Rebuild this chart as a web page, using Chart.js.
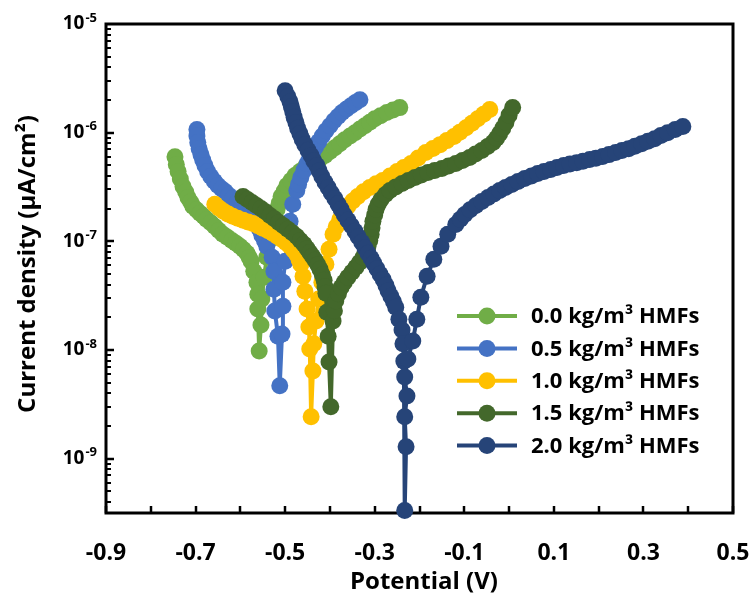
<!DOCTYPE html>
<html>
<head>
<meta charset="utf-8">
<script src="https://cdn.jsdelivr.net/npm/chart.js@4.4.1/dist/chart.umd.min.js"></script>
<style>
  body { margin: 0; background: #fff; }
  canvas { display: block; }
</style>
</head>
<body>
<canvas id="grafico" width="752" height="601"></canvas>
<script>
// series names
const seriesNames = ['0.0 kg/m³ HMFs', '0.5 kg/m³ HMFs', '1.0 kg/m³ HMFs', '1.5 kg/m³ HMFs', '2.0 kg/m³ HMFs'];
const seriesColors = ['#70AD47', '#4472C4', '#FFC000', '#43682B', '#264478'];

// potential (V) and current density (cathodic -> Ecorr -> anodic)
const potential00 = [-0.746, -0.743, -0.739, -0.734, -0.728, -0.722, -0.717, -0.711, -0.706, -0.698, -0.690, -0.682, -0.675, -0.666, -0.657, -0.648, -0.639, -0.629, -0.619, -0.610, -0.601, -0.593, -0.585, -0.580, -0.576, -0.570, -0.563, -0.561, -0.561, -0.558,
    -0.554, -0.552, -0.547, -0.541, -0.534, -0.527, -0.518, -0.513, -0.509, -0.502, -0.496, -0.487, -0.478, -0.467, -0.456, -0.444, -0.433, -0.422, -0.411, -0.400, -0.389, -0.378, -0.367, -0.355, -0.344, -0.333, -0.322, -0.311, -0.300, -0.287, -0.273, -0.259, -0.244];
const current00 = [6.0e-7, 5.1e-7, 4.4e-7, 3.75e-7, 3.2e-7, 2.85e-7, 2.53e-7, 2.3e-7, 2.1e-7, 1.95e-7, 1.81e-7, 1.7e-7, 1.59e-7, 1.48e-7, 1.37e-7, 1.26e-7, 1.16e-7, 1.09e-7, 1.02e-7, 9.6e-8, 9.0e-8, 8.4e-8, 7.76e-8, 7.1e-8, 6.56e-8, 5.3e-8, 4.2e-8, 3.26e-8, 2.38e-8, 9.8e-9,
    1.7e-8, 2.94e-8, 4.68e-8, 7.13e-8, 1.04e-7, 1.46e-7, 1.97e-7, 2.25e-7, 2.59e-7, 2.9e-7, 3.26e-7, 3.62e-7, 4.03e-7, 4.4e-7, 4.77e-7, 5.1e-7, 5.42e-7, 5.75e-7, 6.15e-7, 6.7e-7, 7.28e-7, 7.9e-7, 8.6e-7, 9.3e-7, 1.0e-6, 1.08e-6, 1.16e-6, 1.25e-6, 1.34e-6, 1.43e-6, 1.53e-6, 1.62e-6, 1.7e-6];

const potential05 = [-0.697, -0.697, -0.695, -0.692, -0.688, -0.684, -0.679, -0.673, -0.666, -0.658, -0.650, -0.642, -0.634, -0.626, -0.617, -0.607, -0.596, -0.588, -0.579, -0.571, -0.563, -0.557, -0.552, -0.546, -0.541, -0.529, -0.525, -0.525, -0.523, -0.516, -0.512,
    -0.507, -0.505, -0.505, -0.500, -0.494, -0.489, -0.483, -0.474, -0.470, -0.465, -0.458, -0.451, -0.445, -0.438, -0.432, -0.425, -0.417, -0.409, -0.400, -0.391, -0.382, -0.373, -0.363, -0.353, -0.343, -0.333];
const current05 = [1.07e-6, 9.3e-7, 8.1e-7, 7.1e-7, 6.28e-7, 5.6e-7, 4.98e-7, 4.4e-7, 3.95e-7, 3.57e-7, 3.26e-7, 3.05e-7, 2.87e-7, 2.66e-7, 2.48e-7, 2.3e-7, 2.14e-7, 1.97e-7, 1.81e-7, 1.63e-7, 1.46e-7, 1.29e-7, 1.14e-7, 1.01e-7, 9.0e-8, 7.13e-8, 5.3e-8, 3.63e-8, 2.28e-8, 1.34e-8, 4.68e-9,
    1.4e-8, 2.53e-8, 4.2e-8, 6.56e-8, 1.0e-7, 1.53e-7, 2.19e-7, 2.94e-7, 3.35e-7, 3.87e-7, 4.5e-7, 5.2e-7, 5.9e-7, 6.7e-7, 7.4e-7, 8.27e-7, 9.3e-7, 1.04e-6, 1.16e-6, 1.29e-6, 1.41e-6, 1.53e-6, 1.65e-6, 1.77e-6, 1.89e-6, 2.01e-6];

const potential10 = [-0.657, -0.647, -0.637, -0.627, -0.617, -0.606, -0.594, -0.583, -0.572, -0.561, -0.550, -0.538, -0.527, -0.517, -0.507, -0.498, -0.489, -0.481, -0.474, -0.469, -0.465, -0.460, -0.456, -0.451, -0.447, -0.445, -0.442,
    -0.438, -0.436, -0.431, -0.425, -0.418, -0.409, -0.402, -0.393, -0.386, -0.378, -0.369, -0.360, -0.349, -0.338, -0.325, -0.311, -0.297, -0.282, -0.266, -0.250, -0.235, -0.219, -0.203, -0.186, -0.170, -0.154, -0.139, -0.123, -0.110, -0.096, -0.083, -0.070, -0.057, -0.043];
const current10 = [2.19e-7, 2.02e-7, 1.88e-7, 1.78e-7, 1.7e-7, 1.63e-7, 1.56e-7, 1.51e-7, 1.46e-7, 1.39e-7, 1.32e-7, 1.25e-7, 1.18e-7, 1.11e-7, 1.04e-7, 9.7e-8, 9.0e-8, 8.3e-8, 7.6e-8, 6.8e-8, 6.15e-8, 4.77e-8, 3.48e-8, 2.38e-8, 1.63e-8, 1.02e-8, 2.43e-9,
    6.42e-9, 1.14e-8, 1.85e-8, 2.94e-8, 4.2e-8, 6.15e-8, 8.45e-8, 1.16e-7, 1.36e-7, 1.59e-7, 1.83e-7, 2.1e-7, 2.35e-7, 2.59e-7, 2.86e-7, 3.13e-7, 3.38e-7, 3.63e-7, 4.0e-7, 4.39e-7, 4.78e-7, 5.2e-7, 5.85e-7, 6.56e-7, 7.15e-7, 7.76e-7, 8.45e-7, 9.2e-7, 1.01e-6, 1.11e-6, 1.22e-6, 1.34e-6, 1.48e-6, 1.63e-6];

const potential15 = [-0.594, -0.584, -0.574, -0.564, -0.554, -0.544, -0.534, -0.524, -0.514, -0.504, -0.494, -0.484, -0.474, -0.466, -0.458, -0.451, -0.445, -0.439, -0.433, -0.427, -0.422, -0.417, -0.413, -0.411, -0.409, -0.407, -0.404, -0.402, -0.398,
    -0.393, -0.390, -0.387, -0.381, -0.375, -0.368, -0.360, -0.351, -0.342, -0.334, -0.326, -0.320, -0.315, -0.311, -0.308, -0.306, -0.304, -0.300, -0.297, -0.292, -0.286, -0.276, -0.266, -0.253, -0.239, -0.225, -0.210, -0.196, -0.181, -0.166, -0.150, -0.135, -0.119, -0.104, -0.088, -0.075, -0.061, -0.048, -0.036, -0.028, -0.021, -0.014, -0.007, 0.000, 0.008];
const current15 = [2.59e-7, 2.43e-7, 2.28e-7, 2.14e-7, 2.01e-7, 1.87e-7, 1.73e-7, 1.61e-7, 1.49e-7, 1.39e-7, 1.29e-7, 1.2e-7, 1.11e-7, 1.02e-7, 9.4e-8, 8.6e-8, 7.9e-8, 7.3e-8, 6.7e-8, 6.1e-8, 5.53e-8, 4.9e-8, 4.39e-8, 3.8e-8, 3.33e-8, 2.23e-8, 1.34e-8, 7.76e-9, 3.0e-9,
    1.85e-8, 2.3e-8, 2.82e-8, 3.3e-8, 3.78e-8, 4.2e-8, 4.68e-8, 5.2e-8, 5.77e-8, 6.4e-8, 7.13e-8, 8.0e-8, 9.0e-8, 1.02e-7, 1.16e-7, 1.33e-7, 1.53e-7, 1.75e-7, 1.97e-7, 2.2e-7, 2.43e-7, 2.7e-7, 2.94e-7, 3.17e-7, 3.4e-7, 3.63e-7, 3.87e-7, 4.08e-7, 4.3e-7, 4.48e-7, 4.68e-7, 4.93e-7, 5.2e-7, 5.55e-7, 5.9e-7, 6.35e-7, 6.84e-7, 7.45e-7, 8.1e-7, 8.9e-7, 9.8e-7, 1.1e-6, 1.24e-6, 1.45e-6, 1.7e-6];

const potential20 = [-0.500, -0.494, -0.489, -0.486, -0.483, -0.480, -0.476, -0.472, -0.467, -0.462, -0.456, -0.449, -0.442, -0.436, -0.429, -0.424, -0.418, -0.411, -0.404, -0.397, -0.389, -0.382, -0.375, -0.368, -0.360, -0.352, -0.344, -0.337, -0.329, -0.322, -0.315, -0.308, -0.302, -0.295, -0.288, -0.281, -0.275, -0.270, -0.264, -0.258, -0.253, -0.246, -0.239, -0.237, -0.235, -0.233,
    -0.230, -0.233, -0.228, -0.233, -0.226, -0.215, -0.206, -0.197, -0.183, -0.168, -0.152, -0.137, -0.119, -0.109, -0.099, -0.087, -0.074, -0.061, -0.047, -0.034, -0.021, -0.008, 0.006, 0.020, 0.035, 0.050, 0.064, 0.078, 0.093, 0.107, 0.122, 0.136, 0.151, 0.165, 0.180, 0.194, 0.209, 0.223, 0.238, 0.252, 0.267, 0.281, 0.296, 0.310, 0.325, 0.339, 0.354, 0.371, 0.388];
const current20 = [2.43e-6, 2.15e-6, 1.92e-6, 1.73e-6, 1.56e-6, 1.39e-6, 1.24e-6, 1.1e-6, 9.8e-7, 8.7e-7, 7.76e-7, 6.9e-7, 6.15e-7, 5.5e-7, 4.98e-7, 4.45e-7, 3.95e-7, 3.5e-7, 3.13e-7, 2.78e-7, 2.48e-7, 2.2e-7, 1.97e-7, 1.75e-7, 1.56e-7, 1.39e-7, 1.24e-7, 1.1e-7, 9.8e-8, 8.7e-8, 7.76e-8, 7.0e-8, 6.28e-8, 5.6e-8, 4.98e-8, 4.45e-8, 3.95e-8, 3.5e-8, 3.13e-8, 2.78e-8, 2.48e-8, 1.92e-8, 1.53e-8, 1.14e-8, 7.9e-9, 3.33e-10,
    1.29e-9, 2.43e-9, 3.78e-9, 5.65e-9, 8.27e-9, 1.21e-8, 1.92e-8, 3.06e-8, 4.77e-8, 6.84e-8, 9.0e-8, 1.16e-7, 1.43e-7, 1.6e-7, 1.77e-7, 1.95e-7, 2.14e-7, 2.33e-7, 2.53e-7, 2.73e-7, 2.94e-7, 3.13e-7, 3.33e-7, 3.55e-7, 3.78e-7, 4.0e-7, 4.2e-7, 4.4e-7, 4.58e-7, 4.78e-7, 4.98e-7, 5.14e-7, 5.3e-7, 5.47e-7, 5.65e-7, 5.83e-7, 6.03e-7, 6.28e-7, 6.56e-7, 6.84e-7, 7.13e-7, 7.5e-7, 7.9e-7, 8.35e-7, 8.8e-7, 9.4e-7, 1.0e-6, 1.07e-6, 1.14e-6];

// axis ticks
const xTickLabels = ['-0.9', '-0.7', '-0.5', '-0.3', '-0.1', '0.1', '0.3', '0.5'];
const yTickExps = [-5, -6, -7, -8, -9];

const potentials = [potential00, potential05, potential10, potential15, potential20];
const currents = [current00, current05, current10, current15, current20];

const FONT = '"Open Sans", "DejaVu Sans", sans-serif';

function juntar(xs, ys) {
    return xs.map((x, i) => ({ x: x, y: ys[i] }));
}

const datasets = seriesNames.map((nome, i) => ({
    label: nome,
    data: juntar(potentials[i], currents[i]),
    showLine: true,
    borderColor: seriesColors[i],
    backgroundColor: seriesColors[i],
    borderWidth: 4,
    pointRadius: 8.5,
    pointBorderWidth: 0,
    pointBackgroundColor: seriesColors[i],
    clip: false,
    order: 5 - i
}));

const eixos = {
    id: 'eixos',
    beforeDatasetsDraw(chart) {
        const ctx = chart.ctx;
        const a = chart.chartArea;
        const sx = chart.scales.x;
        const sy = chart.scales.y;
        ctx.save();
        ctx.strokeStyle = '#000';
        ctx.lineWidth = 3;
        ctx.strokeRect(a.left, a.top, a.right - a.left, a.bottom - a.top);
        ctx.lineWidth = 2.5;
        // x ticks every 0.1, pointing inward
        for (let k = -9; k <= 5; k++) {
            const px = Math.round(sx.getPixelForValue(k / 10));
            ctx.beginPath();
            ctx.moveTo(px, a.bottom);
            ctx.lineTo(px, a.bottom - 7);
            ctx.stroke();
        }
        // y ticks, decades and minor
        for (let e = -10; e <= -6; e++) {
            for (let m = 1; m <= 9; m++) {
                const v = m * Math.pow(10, e);
                if (v < sy.min * 0.999 || v > sy.max * 1.001) continue;
                const py = Math.round(sy.getPixelForValue(v));
                ctx.lineWidth = m === 1 ? 2.5 : 2;
                ctx.beginPath();
                ctx.moveTo(a.left, py);
                ctx.lineTo(a.left + (m === 1 ? 8 : 5), py);
                ctx.stroke();
            }
        }
        ctx.restore();
    },
    afterDraw(chart) {
        const ctx = chart.ctx;
        const sx = chart.scales.x;
        const sy = chart.scales.y;
        ctx.save();
        ctx.fillStyle = '#000';
        // x tick labels
        ctx.font = 'bold 23px ' + FONT;
        ctx.textAlign = 'center';
        ctx.textBaseline = 'middle';
        xTickLabels.forEach(t => {
            ctx.fillText(t, sx.getPixelForValue(parseFloat(t)), 553);
        });
        // y tick labels 10^n
        yTickExps.forEach(e => {
            const py = sy.getPixelForValue(Math.pow(10, e));
            ctx.font = 'bold 13px ' + FONT;
            ctx.textAlign = 'left';
            ctx.textBaseline = 'middle';
            const sup = String(e);
            const wSup = ctx.measureText(sup).width;
            const xSup = 97 - wSup;
            ctx.fillText(sup, xSup, py - 6);
            ctx.font = 'bold 19px ' + FONT;
            ctx.textAlign = 'right';
            ctx.fillText('10', xSup - 1, py);
        });
        // axis titles
        ctx.font = 'bold 24px ' + FONT;
        ctx.textAlign = 'center';
        ctx.textBaseline = 'middle';
        ctx.fillText('Potential (V)', 424, 582);
        ctx.save();
        ctx.translate(28, 264);
        ctx.rotate(-Math.PI / 2);
        ctx.fillText('Current density (μA/cm²)', 0, 0);
        ctx.restore();
        // legend: line with marker
        chart.data.datasets.forEach((ds, i) => {
            const y = 316 + i * 32.4;
            ctx.strokeStyle = ds.borderColor;
            ctx.lineWidth = 4;
            ctx.beginPath();
            ctx.moveTo(457, y);
            ctx.lineTo(517, y);
            ctx.stroke();
            ctx.fillStyle = ds.borderColor;
            ctx.beginPath();
            ctx.arc(487, y, 8.5, 0, Math.PI * 2);
            ctx.fill();
            ctx.fillStyle = '#000';
            ctx.font = 'bold 22px ' + FONT;
            ctx.textAlign = 'left';
            ctx.textBaseline = 'middle';
            ctx.fillText(ds.label, 531, y + 1);
        });
        ctx.restore();
    }
};

new Chart(document.getElementById('grafico').getContext('2d'), {
    type: 'scatter',
    data: { datasets: datasets },
    options: {
        responsive: false,
        animation: false,
        devicePixelRatio: 1,
        layout: { padding: { left: 106, right: 19, top: 24, bottom: 88 } },
        plugins: { legend: { display: false }, tooltip: { enabled: false } },
        scales: {
            x: {
                type: 'linear', min: -0.9, max: 0.5, display: false
            },
            y: {
                type: 'logarithmic', min: Math.pow(10, -9.5), max: 1e-5, display: false
            }
        }
    },
    plugins: [eixos]
});
</script>
</body>
</html>
